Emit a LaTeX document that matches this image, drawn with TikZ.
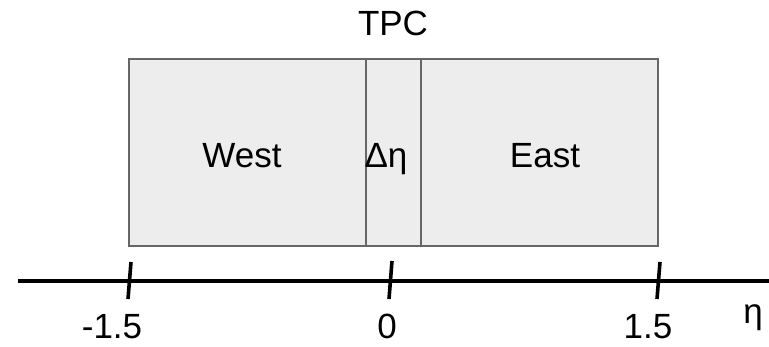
\documentclass[tikz,border=0pt]{standalone}
\usepackage{fontspec}
\setmainfont{Liberation Sans}
\begin{document}
\begin{tikzpicture}[x=1pt,y=-1pt,
  region/.style={draw=black!60, fill=black!7, line width=1.6pt, inner sep=0pt, outer sep=0pt},
  lbl/.style={font=\fontsize{35}{40}\selectfont, inner sep=0pt, anchor=base},
  axis/.style={line width=3.6pt, black},
  tick/.style={line width=3.6pt, black}]
\useasboundingbox (0,0) rectangle (769,346);
% regions
\path (129,59) coordinate (wtl) (366,246) coordinate (wbr)
      (421,59) coordinate (etl) (658,246) coordinate (ebr);
\draw[region] (wtl) rectangle (wbr);
\draw[region] (366,59) rectangle (421,246);
\draw[region] (etl) rectangle (ebr);
\node[lbl] (west) at (242,167) {West};
\node[lbl] (deta) at (386,167) {Δη};
\node[lbl] (east) at (545,167) {East};
\node[lbl] (tpc) at (393,35) {TPC};
% axis
\coordinate (a0) at (18,281);
\coordinate (a1) at (769,281);
\draw[axis] (a0) -- (a1);
\coordinate (t1a) at (131,262); \coordinate (t1b) at (128,299);
\coordinate (t2a) at (392,261); \coordinate (t2b) at (389,299);
\coordinate (t3a) at (660,262); \coordinate (t3b) at (657,299);
\draw[tick] (t1a) -- (t1b);
\draw[tick] (t2a) -- (t2b);
\draw[tick] (t3a) -- (t3b);
\node[lbl] (lm) at (112,338) {-1.5};
\node[lbl] (lz) at (387,338) {0};
\node[lbl] (lp) at (648,338) {1.5};
\node[lbl] (leta) at (753,323) {η};
\end{tikzpicture}
\end{document}
